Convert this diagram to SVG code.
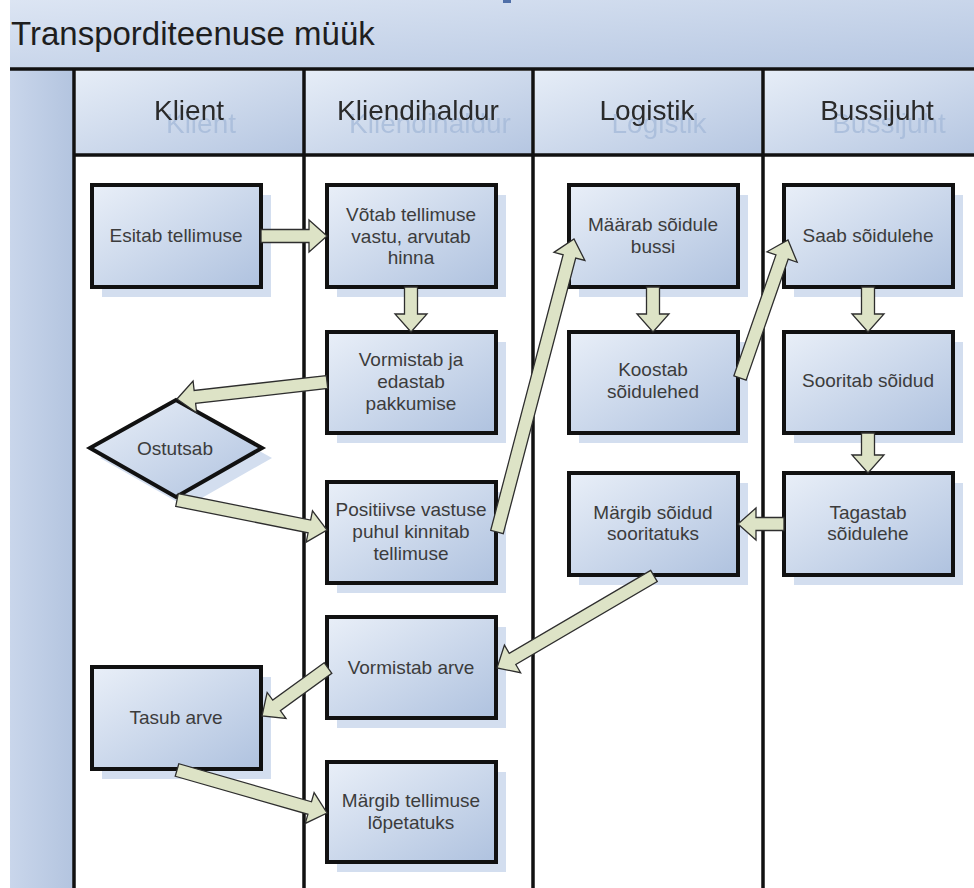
<svg xmlns="http://www.w3.org/2000/svg" width="974" height="888" viewBox="0 0 974 888">
<defs>
<linearGradient id="gNode" x1="0" y1="0" x2="1" y2="1"><stop offset="0" stop-color="#e9eff8"/><stop offset="1" stop-color="#afc2df"/></linearGradient>
<linearGradient id="gTitle" x1="0" y1="0" x2="1" y2="1"><stop offset="0" stop-color="#dce5f3"/><stop offset="1" stop-color="#b6c7e2"/></linearGradient>
<linearGradient id="gHead" x1="0" y1="0" x2="1" y2="1"><stop offset="0" stop-color="#e6edf7"/><stop offset="1" stop-color="#b5c6e1"/></linearGradient>
<linearGradient id="gBand" x1="0" y1="0" x2="1" y2="0"><stop offset="0" stop-color="#c9d6eb"/><stop offset="1" stop-color="#b3c4df"/></linearGradient>
<filter id="tshadow" x="-10%" y="-30%" width="130%" height="180%">
<feFlood flood-color="#a3b8d8" flood-opacity="0.75"/>
<feComposite in2="SourceAlpha" operator="in"/>
<feOffset dx="12" dy="13" result="sh"/>
<feMerge><feMergeNode in="sh"/><feMergeNode in="SourceGraphic"/></feMerge>
</filter>
<style>
.lane{stroke:#111;stroke-width:3.5;fill:none}
.box{fill:url(#gNode);stroke:#111;stroke-width:4}
.shadow{fill:#d3deef}
.t{font-family:"Liberation Sans",Arial,sans-serif;font-size:19px;fill:#3c3c3c;text-anchor:middle}
.h{font-family:"Liberation Sans",Arial,sans-serif;font-size:28px;fill:#2a2a2a;text-anchor:middle;filter:url(#tshadow)}
.arr{fill:#dde3c6;stroke:#2e2e2e;stroke-width:1.3;stroke-linejoin:miter}
</style>
</defs>
<rect x="0" y="0" width="974" height="888" fill="#ffffff"/>

<g id="pool">
<rect x="10" y="0" width="964" height="69" fill="url(#gTitle)"/>
<rect x="503" y="0" width="8" height="3" fill="#4f6fa8"/>
<text x="11" y="45" font-family="Liberation Sans, Arial, sans-serif" font-size="33" fill="#1e1e1e">Transporditeenuse müük</text>
<rect x="10" y="69" width="64" height="819" fill="url(#gBand)"/>
<rect x="76" y="71" width="227" height="83" fill="url(#gHead)"/>
<rect x="305" y="71" width="227" height="83" fill="url(#gHead)"/>
<rect x="535" y="71" width="227" height="83" fill="url(#gHead)"/>
<rect x="765" y="71" width="209" height="83" fill="url(#gHead)"/>
<text class="h" x="189" y="120">Klient</text>
<text class="h" x="418" y="120">Kliendihaldur</text>
<text class="h" x="647" y="120">Logistik</text>
<text class="h" x="877" y="120">Bussijuht</text>
<line class="lane" x1="10" y1="69" x2="974" y2="69"/>
<line class="lane" x1="74" y1="155" x2="974" y2="155"/>
<line class="lane" x1="74" y1="69" x2="74" y2="888"/>
<line class="lane" x1="304" y1="69" x2="304" y2="888"/>
<line class="lane" x1="533" y1="69" x2="533" y2="888"/>
<line class="lane" x1="763" y1="69" x2="763" y2="888"/>
</g>

<g id="n1"><rect class="shadow" x="102" y="195" width="169" height="102"/><rect class="box" x="92" y="185" width="169" height="102"/><text class="t" x="176" y="242">Esitab tellimuse</text></g>
<g id="n2"><rect class="shadow" x="337" y="195" width="169" height="102"/><rect class="box" x="327" y="185" width="169" height="102"/><text class="t" x="411" y="221">Võtab tellimuse</text><text class="t" x="411" y="243">vastu, arvutab</text><text class="t" x="411" y="264">hinna</text></g>
<g id="n3"><rect class="shadow" x="337" y="342" width="169" height="101"/><rect class="box" x="327" y="332" width="169" height="101"/><text class="t" x="411" y="366">Vormistab ja</text><text class="t" x="411" y="388">edastab</text><text class="t" x="411" y="410">pakkumise</text></g>
<g id="n4"><polygon class="shadow" points="100,458 186,410 272,458 186,507"/><polygon class="box" points="90,448 176,400 262,448 176,497"/><text class="t" x="175" y="455">Ostutsab</text></g>
<g id="n5"><rect class="shadow" x="337" y="492" width="169" height="101"/><rect class="box" x="327" y="482" width="169" height="101"/><text class="t" x="411" y="516">Positiivse vastuse</text><text class="t" x="411" y="538">puhul kinnitab</text><text class="t" x="411" y="560">tellimuse</text></g>
<g id="n6"><rect class="shadow" x="337" y="627" width="169" height="101"/><rect class="box" x="327" y="617" width="169" height="101"/><text class="t" x="411" y="674">Vormistab arve</text></g>
<g id="n7"><rect class="shadow" x="337" y="772" width="169" height="100"/><rect class="box" x="327" y="762" width="169" height="100"/><text class="t" x="411" y="807">Märgib tellimuse</text><text class="t" x="411" y="829">lõpetatuks</text></g>
<g id="n8"><rect class="shadow" x="102" y="677" width="169" height="102"/><rect class="box" x="92" y="667" width="169" height="102"/><text class="t" x="176" y="724">Tasub arve</text></g>
<g id="n9"><rect class="shadow" x="579" y="195" width="169" height="102"/><rect class="box" x="569" y="185" width="169" height="102"/><text class="t" x="653" y="231">Määrab sõidule</text><text class="t" x="653" y="253">bussi</text></g>
<g id="n10"><rect class="shadow" x="579" y="342" width="169" height="101"/><rect class="box" x="569" y="332" width="169" height="101"/><text class="t" x="653" y="376">Koostab</text><text class="t" x="653" y="398">sõidulehed</text></g>
<g id="n11"><rect class="shadow" x="579" y="483" width="169" height="102"/><rect class="box" x="569" y="473" width="169" height="102"/><text class="t" x="653" y="519">Märgib sõidud</text><text class="t" x="653" y="540">sooritatuks</text></g>
<g id="n12"><rect class="shadow" x="794" y="195" width="169" height="102"/><rect class="box" x="784" y="185" width="169" height="102"/><text class="t" x="868" y="242">Saab sõidulehe</text></g>
<g id="n13"><rect class="shadow" x="794" y="342" width="169" height="101"/><rect class="box" x="784" y="332" width="169" height="101"/><text class="t" x="868" y="387">Sooritab sõidud</text></g>
<g id="n14"><rect class="shadow" x="794" y="483" width="169" height="102"/><rect class="box" x="784" y="473" width="169" height="102"/><text class="t" x="868" y="519">Tagastab</text><text class="t" x="868" y="540">sõidulehe</text></g>

<g id="connectors">
<polygon class="arr" points="261,242.5 309,242.5 309,252 327,236 309,220 309,229.5 261,229.5"/>
<polygon class="arr" points="404.5,287 404.5,314 395,314 411,332 427,314 417.5,314 417.5,287"/>
<polygon class="arr" points="326.27,375.54 194.15,390.51 193.08,381.08 177,399 196.69,412.87 195.62,403.43 327.73,388.46"/>
<polygon class="arr" points="175.73,506.37 308.08,532.84 306.21,542.16 327,530 312.49,510.78 310.63,520.10 178.28,493.63"/>
<polygon class="arr" points="503.29,533.65 575.71,258.06 584.90,260.48 574,239 553.95,252.34 563.14,254.76 490.71,530.35"/>
<polygon class="arr" points="646.5,287 646.5,314 637,314 653,332 669,314 659.5,314 659.5,287"/>
<polygon class="arr" points="746.14,380.14 788.23,259.14 797.20,262.26 788,240 766.98,251.74 775.95,254.87 733.86,375.87"/>
<polygon class="arr" points="861.5,287 861.5,314 852,314 868,332 884,314 874.5,314 874.5,287"/>
<polygon class="arr" points="861.5,433 861.5,455 852,455 868,473 884,455 874.5,455 874.5,433"/>
<polygon class="arr" points="784,517.5 756,517.5 756,508 738,524 756,540 756,530.5 784,530.5"/>
<polygon class="arr" points="650.71,570.39 509.24,653.29 504.44,645.10 497,668 520.62,672.71 515.82,664.51 657.29,581.61"/>
<polygon class="arr" points="324.18,662.74 272.74,700.15 267.15,692.47 262,716 285.97,718.35 280.38,710.67 331.82,673.26"/>
<polygon class="arr" points="175.21,776.25 307.91,814.29 305.29,823.42 327,813 314.11,792.66 311.49,801.79 178.79,763.75"/>
</g>
</svg>
